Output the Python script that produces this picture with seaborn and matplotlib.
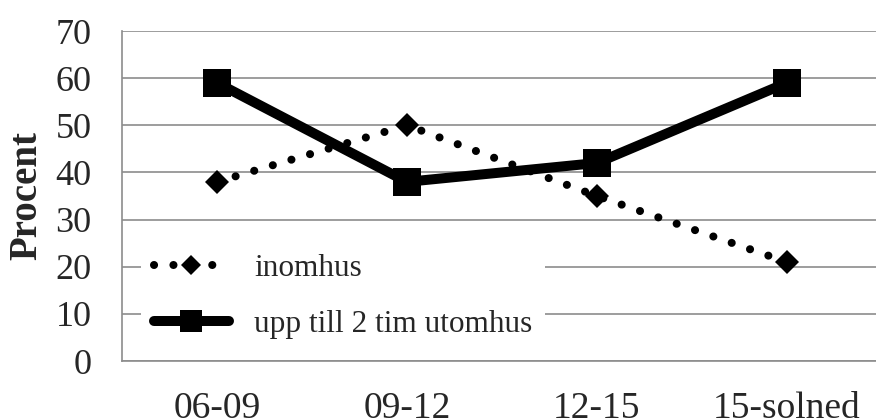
import seaborn as sns
import pandas as pd
import matplotlib.pyplot as plt

# data
perioder = ['06-09', '09-12', '12-15', '15-solned']
inomhus = [38, 50, 35, 21]
utomhus = [59, 38, 42, 59]
namn_inne = 'inomhus'
namn_ute = 'upp till 2 tim utomhus'

df = pd.DataFrame({'period': perioder, namn_inne: inomhus, namn_ute: utomhus})

sns.set_style('white')
plt.rcParams['font.family'] = ['Liberation Serif', 'DejaVu Serif']

fig = plt.figure(figsize=(8.76, 4.19), dpi=100)
ax = fig.add_axes([122/876, 58/419, 754/876, 330/419])

sns.lineplot(data=df, x='period', y=namn_inne, ax=ax, color='black',
             marker='D', markersize=12.5, linewidth=5.8,
             linestyle=(0, (0.01, 2.4)), dash_capstyle='round',
             markeredgewidth=0, label=namn_inne)
sns.lineplot(data=df, x='period', y=namn_ute, ax=ax, color='black',
             marker='s', markersize=19.5, linewidth=7.2,
             markeredgewidth=0, label=namn_ute)

ax.set_ylim(0, 70)
ax.set_xlim(-0.5, 3.47)
ax.set_yticks(range(0, 71, 10))
ax.yaxis.grid(True, color='#8c8c8c', linewidth=1.2)
ax.set_axisbelow(True)
for s in ['top', 'right']:
    ax.spines[s].set_visible(False)
for s in ['left', 'bottom']:
    ax.spines[s].set_color('#8c8c8c')
    ax.spines[s].set_linewidth(1.2)

ax.tick_params(axis='y', length=0, pad=22, labelsize=26)
ax.tick_params(axis='x', length=0, pad=22, labelsize=27)
ax.set_xlabel('')
ax.set_ylabel('Procent', fontsize=28, fontweight='bold', labelpad=7)

leg = ax.legend(loc='center left', bbox_to_anchor=(0.005, 0.195), fontsize=22.5,
                frameon=True, facecolor='white', edgecolor='none', framealpha=1,
                handlelength=2.4, handletextpad=0.8, labelspacing=0.85,
                markerscale=0.8, fancybox=False)

fig.savefig('out.png', dpi=100)
